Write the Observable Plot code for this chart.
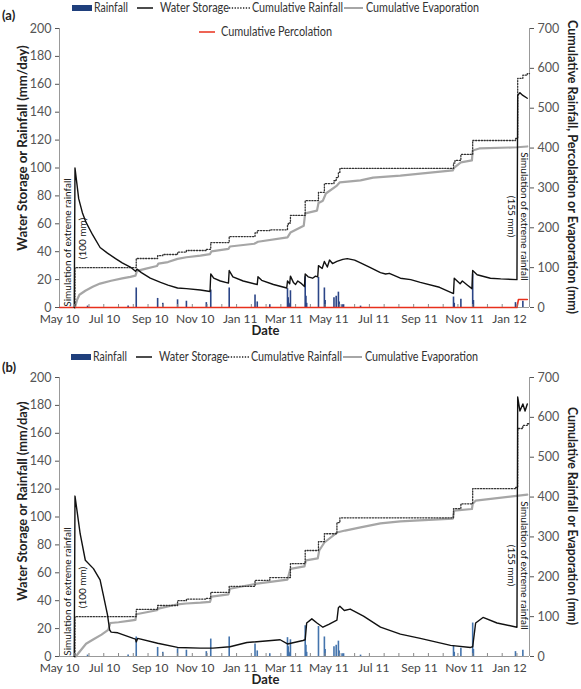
<!DOCTYPE html>
<html><head><meta charset="utf-8">
<script src="https://cdn.jsdelivr.net/npm/d3@7"></script>
<script src="https://cdn.jsdelivr.net/npm/@observablehq/plot@0.6"></script>
<style>
body{margin:0;background:#fff;font-family:Lato,"DejaVu Sans",sans-serif;}
#wrap{position:relative;width:581px;height:689px;overflow:hidden;background:#fff}
.p{position:absolute;left:0}
.lg{position:absolute;font-size:12.5px;color:#333;white-space:nowrap;line-height:1;transform-origin:0 50%}
.tag{position:absolute;font-size:13px;font-weight:bold;color:#222;transform:translateY(-50%)}
.ax{position:absolute;font-size:13px;font-weight:bold;color:#222;white-space:nowrap;line-height:1}
svg.sw{position:absolute;overflow:visible}
</style></head><body><div id="wrap"></div><script>
// ---------- data ----------
const xStart = "2010-05-01", xEnd = "2012-01-28";
const leftTicks = [0,20,40,60,80,100,120,140,160,180,200];
const rightTicks = [0,100,200,300,400,500,600,700];
const rainfall = [
["2010-06-08",1],["2010-08-02",1],["2010-08-13",14],["2010-09-11",6.5],["2010-09-18",3],["2010-10-08",5.5],["2010-10-20",4.5],["2010-11-16",3.5],["2010-11-22",12.5],["2010-12-17",14],["2011-01-21",9],["2011-01-24",4],["2011-02-10",2],["2011-03-06",13.5],["2011-03-07",7],["2011-03-08",3],["2011-03-09",2],["2011-03-10",12],["2011-03-30",22],["2011-03-31",8],["2011-04-01",3],["2011-04-17",21.5],["2011-04-25",14],["2011-04-26",5],["2011-05-08",7],["2011-05-11",8],["2011-05-14",11],["2011-05-15",4],["2011-05-19",2],["2011-05-21",2],["2011-06-13",1],["2011-10-17",7.5],["2011-10-18",3],["2011-10-27",6],["2011-11-12",24],["2011-11-13",5],["2012-01-09",3.5],["2012-01-19",4.5]
];
const storageA = [
["2010-05-21",0],["2010-05-22",100],["2010-05-27",78],["2010-06-01",68],["2010-06-06",61],["2010-06-15",52],["2010-06-25",43],["2010-07-05",39],["2010-07-16",35],["2010-07-25",32],["2010-08-05",29],["2010-08-12",26],["2010-08-14",27.5],["2010-08-20",25],["2010-09-01",21],["2010-09-15",18],["2010-09-25",16],["2010-10-08",14],["2010-10-20",13.5],["2010-11-08",12.5],["2010-11-21",11.5],["2010-11-22",24],["2010-11-26",21],["2010-12-05",19],["2010-12-16",17.5],["2010-12-17",26.5],["2010-12-22",22],["2011-01-05",19],["2011-01-24",16.5],["2011-01-25",22],["2011-01-30",19.5],["2011-02-15",16.5],["2011-03-05",14],["2011-03-06",19],["2011-03-09",17],["2011-03-10",22.5],["2011-03-14",18],["2011-03-17",16.5],["2011-03-20",19],["2011-03-24",17.5],["2011-03-29",15],["2011-03-30",24],["2011-04-03",22],["2011-04-09",21],["2011-04-13",22.5],["2011-04-16",22],["2011-04-17",30],["2011-04-22",28],["2011-04-25",33],["2011-04-29",29],["2011-05-02",34],["2011-05-06",31.5],["2011-05-12",33],["2011-05-20",34.5],["2011-05-26",35],["2011-06-05",34],["2011-06-13",32],["2011-06-25",29],["2011-07-10",25],["2011-07-17",24],["2011-07-22",24.5],["2011-08-06",21],["2011-08-20",20],["2011-09-02",18],["2011-09-28",14.5],["2011-10-17",10],["2011-10-18",21],["2011-10-22",19],["2011-10-26",17],["2011-10-29",19],["2011-11-05",16],["2011-11-11",13.5],["2011-11-12",26.5],["2011-11-18",23.5],["2011-12-06",21],["2011-12-20",20.5],["2012-01-11",20],["2012-01-12",152],["2012-01-15",154],["2012-01-19",152],["2012-01-25",150]
];
const cumRainA = [
["2010-05-21",0],["2010-05-22",100],["2010-08-13",123],["2010-09-11",130],["2010-09-18",133],["2010-10-08",139],["2010-10-20",143],["2010-11-16",146],["2010-11-22",163],["2010-12-17",178],["2011-01-21",187],["2011-01-24",193],["2011-02-10",195],["2011-03-06",206],["2011-03-07",212],["2011-03-10",231],["2011-03-30",268],["2011-04-17",289],["2011-04-25",311],["2011-05-08",318],["2011-05-11",326],["2011-05-14",339],["2011-05-16",349],["2011-10-17",362],["2011-10-19",369],["2011-10-27",384],["2011-11-12",419],["2012-01-09",424],["2012-01-12",575],["2012-01-19",583],["2012-01-25",587],["2012-01-28",587]
];
const evapA = [
["2010-05-22",0],["2010-05-25",20],["2010-05-28",32],["2010-06-05",42],["2010-06-15",52],["2010-06-25",60],["2010-07-10",67],["2010-07-25",73],["2010-08-05",77],["2010-08-12",80],["2010-08-14",92],["2010-08-25",97],["2010-09-10",104],["2010-09-12",110],["2010-09-25",114],["2010-10-08",122],["2010-10-20",126],["2010-11-08",130],["2010-11-21",134],["2010-11-23",141],["2010-12-16",147],["2010-12-18",153],["2011-01-20",160],["2011-01-25",165],["2011-03-06",176],["2011-03-10",188],["2011-03-28",205],["2011-03-30",236],["2011-04-15",243],["2011-04-17",262],["2011-04-23",268],["2011-04-27",286],["2011-05-12",306],["2011-05-16",314],["2011-06-13",319],["2011-06-30",326],["2011-08-06",331],["2011-09-02",336],["2011-10-16",344],["2011-10-18",351],["2011-10-27",364],["2011-11-11",369],["2011-11-12",394],["2011-11-21",399],["2012-01-11",402],["2012-01-25",404]
];
const percolationA = [["2010-05-01",0],["2012-01-11",0],["2012-01-13",20],["2012-01-25",20]];
const storageB = [
["2010-05-21",0],["2010-05-22",115],["2010-05-29",88],["2010-06-05",69],["2010-06-16",63],["2010-06-25",55],["2010-06-29",45],["2010-07-05",30],["2010-07-08",19],["2010-07-10",17.5],["2010-07-19",17],["2010-08-09",13],["2010-08-12",12.5],["2010-08-13",10.5],["2010-08-15",13],["2010-09-11",9.5],["2010-10-08",6.5],["2010-11-08",6],["2010-11-25",6],["2010-12-18",7],["2011-01-10",10],["2011-02-24",12],["2011-03-06",9],["2011-03-27",11.5],["2011-03-30",12],["2011-04-01",24],["2011-04-08",27],["2011-04-15",24],["2011-04-23",21],["2011-05-01",23],["2011-05-12",26],["2011-05-14",35],["2011-05-16",36],["2011-05-22",33],["2011-05-30",34],["2011-06-17",29],["2011-07-10",21],["2011-08-06",16],["2011-09-02",13],["2011-10-13",8],["2011-11-09",6.5],["2011-11-12",7],["2011-11-16",24],["2011-11-26",28],["2011-12-15",24],["2012-01-11",21],["2012-01-12",186],["2012-01-15",176],["2012-01-19",181],["2012-01-22",176],["2012-01-25",181]
];
const cumRainB = [
["2010-05-21",0],["2010-05-22",100],["2010-08-13",118],["2010-09-11",128],["2010-10-08",140],["2010-10-20",144],["2010-11-16",146],["2010-11-22",161],["2010-12-17",176],["2011-01-21",191],["2011-02-10",198],["2011-03-10",233],["2011-03-30",266],["2011-04-17",288],["2011-04-25",308],["2011-05-12",336],["2011-05-16",348],["2011-10-17",371],["2011-10-27",383],["2011-11-12",421],["2012-01-09",424],["2012-01-12",572],["2012-01-19",580],["2012-01-25",584],["2012-01-28",584]
];
const evapB = [
["2010-05-23",0],["2010-06-06",32],["2010-06-15",42],["2010-06-27",55],["2010-07-06",67],["2010-07-09",84],["2010-07-20",86],["2010-08-05",90],["2010-08-12",92],["2010-08-13",106],["2010-09-10",116],["2010-09-12",120],["2010-10-08",131],["2010-10-20",133],["2010-11-08",135],["2010-11-21",137],["2010-11-23",150],["2010-12-16",156],["2010-12-18",170],["2011-01-21",182],["2011-03-06",193],["2011-03-10",220],["2011-03-29",226],["2011-03-31",241],["2011-04-16",246],["2011-04-18",266],["2011-04-25",286],["2011-05-12",311],["2011-05-23",316],["2011-06-13",324],["2011-07-10",334],["2011-08-06",339],["2011-10-16",346],["2011-10-18",366],["2011-11-11",370],["2011-11-12",383],["2011-11-16",391],["2012-01-25",406]
];
const events = [
  {date:"2010-05-22", label:"Simulation of extreme rainfall", amount:"(100 mm)"},
  {date:"2012-01-12", label:"Simulation of extreme rainfall", amount:"(155 mm)"}
];
const legendItems = ["Rainfall","Water Storage","Cumulative Rainfall","Cumulative Evaporation","Cumulative Percolation"];
const leftLabel = "Water Storage or Rainfall (mm/day)";
const rightLabelA = "Cumulative Rainfall, Percolation or Evaporation (mm)";
const rightLabelB = "Cumulative Rainfall or Evaporation (mm)";

// ---------- helpers ----------
const D = s => new Date(s + "T00:00:00Z");
const rows = arr => arr.map(([d,v]) => ({date: D(d), v}));
const K = 200/700; // right-axis mm -> left-axis units
const fmt = d3.utcFormat("%b %y");
const labelTicks = d3.utcMonth.every(2).range(D(xStart), d3.utcDay.offset(D(xEnd),1));
const minorTicks = d3.range(0, 32).map(i => d3.utcDay.offset(D(xStart), 20*i)).filter(d => d <= D(xEnd));

function panel({storage, cumRain, evap, perc, rainColor, height, marginTop}) {
  const ev = events.map(e => ({...e, date: D(e.date)}));
  const marks = [
    Plot.ruleY([0], {stroke:"#999", strokeWidth:1}),
    Plot.ruleX([D(xStart)], {stroke:"#999", strokeWidth:1}),
    Plot.ruleX([D(xEnd)], {stroke:"#999", strokeWidth:1}),
    Plot.ruleX(rows(rainfall), {x:"date", y1:0, y2:"v", stroke: rainColor, strokeWidth:1.6}),
    Plot.line(rows(evap), {x:"date", y: d => d.v*K, stroke:"#a6a6a6", strokeWidth:2.2}),
    Plot.line(rows(cumRain), {x:"date", y: d => d.v*K, stroke:"#333", strokeWidth:1.3, strokeDasharray:"1.2,1.6", curve:"step-after"}),
  ];
  if (perc) marks.push(Plot.line(rows(perc), {x:"date", y: d => d.v*K, stroke:"#e8301c", strokeWidth:1.6}));
  marks.push(
    Plot.line(rows(storage), {x:"date", y:"v", stroke:"#111", strokeWidth:1.4}),
    // annotations
    Plot.text([ev[0]], {x:"date", y:0, text:"label", rotate:-90, dx:-7.5, dy:-65, fontSize:10, fill:"#111"}),
    Plot.text([ev[0]], {x:"date", y:0, text:"amount", rotate:-90, dx:7.5, dy:-69, fontSize:10, fill:"#111"}),
    Plot.text([ev[1]], {x:"date", y:0, text:"label", rotate:90, dx:6.5, dy:-91, fontSize:10, fill:"#111"}),
    Plot.text([ev[1]], {x:"date", y:0, text:"amount", rotate:90, dx:-6, dy:-91, fontSize:10, fill:"#111"}),
    // axes
    Plot.axisY(leftTicks, {anchor:"left", tickSize:4, tickPadding:4, color:"#555", fontSize:12.5, label:null}),
    Plot.axisY(rightTicks.map(v => v*K), {anchor:"right", tickSize:4, tickPadding:4, color:"#555", fontSize:12.5, label:null, tickFormat: d => Math.round(d/K)}),
    Plot.axisX(labelTicks, {anchor:"bottom", tickSize:0, tickPadding:7, color:"#444", fontSize:12, tickFormat: fmt, label:null}),
    Plot.axisX(minorTicks, {anchor:"bottom", tickSize:-3, color:"#888", tickFormat: () => "", label:null}),
    Plot.text(["Date"], {frameAnchor:"bottom", dx:-29, dy:27, fontWeight:"bold", fontSize:13, fill:"#222", text: d => d})
  );
  return Plot.plot({
    width:581, height, marginTop, marginBottom:33, marginLeft:59, marginRight:52,
    style:{fontFamily:"Lato, 'DejaVu Sans', sans-serif", fontSize:"12px", background:"#fff", overflow:"visible"},
    x:{type:"utc", domain:[D(xStart), D(xEnd)]},
    y:{domain:[0,200]},
    marks
  });
}

const wrap = document.getElementById("wrap");
const pa = panel({storage:storageA, cumRain:cumRainA, evap:evapA, perc:percolationA, rainColor:"#2b4587", height:340, marginTop:28});
pa.classList.add("p"); pa.style.top = "0px"; wrap.appendChild(pa);
const pb = panel({storage:storageB, cumRain:cumRainB, evap:evapB, perc:null, rainColor:"#4474ad", height:344, marginTop:32});
pb.classList.add("p"); pb.style.top = "345px"; wrap.appendChild(pb);

// ---------- axis titles (rotated, fitted to the reference's narrow lettering) ----------
function axTitle(t, cx, cy, angle, w) {
  const d = document.createElement("div"); d.className = "ax"; d.textContent = t;
  d.style.left = cx+"px"; d.style.top = cy+"px"; wrap.appendChild(d);
  const s = w / d.offsetWidth;
  d.style.transform = `translate(-50%,-50%) rotate(${angle}deg) scaleX(${s})`;
}
axTitle(leftLabel, 22, 148, -90, 205);
axTitle(rightLabelA, 572, 167, 90, 294);
axTitle(leftLabel, 22, 501, -90, 199);
axTitle(rightLabelB, 572, 516, 90, 218);

// ---------- legends ----------
function sw(x1, x2, y, kind, color) {
  const s = document.createElementNS("http://www.w3.org/2000/svg","svg");
  s.setAttribute("class","sw"); s.setAttribute("width", x2-x1); s.setAttribute("height", 8);
  s.style.left = x1+"px"; s.style.top = (y-4)+"px";
  if (kind === "rect") s.innerHTML = `<rect x="0" y="1" width="${x2-x1}" height="6" fill="${color}"/>`;
  else s.innerHTML = `<line x1="0" x2="${x2-x1}" y1="4" y2="4" stroke="${color}" stroke-width="${kind==='gray'?2:1.5}" ${kind==='dot'?'stroke-dasharray="1.3,1.5"':''}/>`;
  wrap.appendChild(s);
}
function txt(x, y, t, w) {
  const d = document.createElement("div"); d.className = "lg"; d.textContent = t;
  d.style.left = x+"px"; d.style.top = y+"px"; wrap.appendChild(d);
  const r = d.getBoundingClientRect();
  d.style.transform = `translateY(-50%) scaleX(${w / r.width})`;
}
function tag(x, y, t) {
  const d = document.createElement("div"); d.className = "tag"; d.textContent = t;
  d.style.left = x+"px"; d.style.top = y+"px"; wrap.appendChild(d);
}
function legend(y, dx, rainC) {
  sw(72+dx, 92+dx, y, "rect", rainC); txt(94+dx, y, legendItems[0], 34);
  sw(137+dx, 153+dx, y, "line", "#111"); txt(160+dx, y, legendItems[1], 69);
  sw(229+dx, 250+dx, y, "dot", "#222"); txt(252+dx, y, legendItems[2], 91);
  sw(344+dx, 363+dx, y, "gray", "#a6a6a6"); txt(366+dx, y, legendItems[3], 113);
}
legend(8, 0, "#1f3f7c");
sw(199, 215, 32, "line", "#e8301c"); txt(221, 32, legendItems[4], 111);
legend(357, -1, "#1f3f7c");
tag(2, 15, "(a)");
tag(2, 367, "(b)");
</script></body></html>
